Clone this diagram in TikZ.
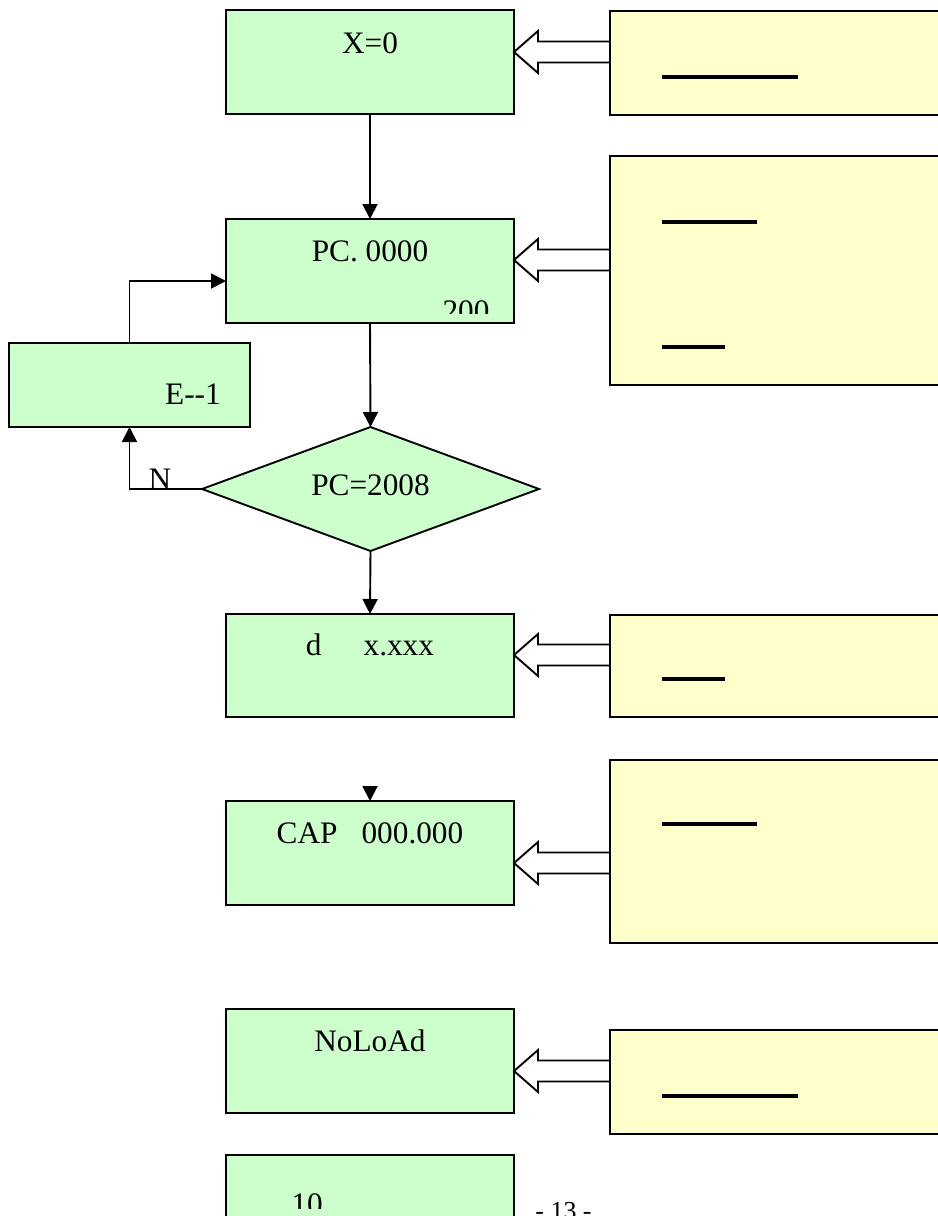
\documentclass[tikz,border=0pt]{standalone}
\usepackage{fontspec}
\setmainfont{Liberation Serif}
\usetikzlibrary{shapes.geometric,arrows.meta,calc}
\definecolor{boxgreen}{HTML}{CCFFCC}
\definecolor{boxyellow}{HTML}{FFFFCC}
\newcommand\blockarrow[2]{%
  \coordinate (#1u) at ($(#1)+(0,-10.5)$);
  \coordinate (#1d) at ($(#1)+(0,10.5)$);
  \draw[barrow] (#2.west |- #1u) -- ($(#1)+(24,-10.5)$) -- ($(#1)+(24,-21)$) -- (#1)
     -- ($(#1)+(24,21)$) -- ($(#1)+(24,10.5)$) -- (#2.west |- #1d) -- cycle;}
\begin{document}
\begin{tikzpicture}[x=1bp,y=-1bp,
  gbox/.style={draw, line width=1.9bp, fill=boxgreen, rectangle, inner sep=0pt, outer sep=0pt, minimum width=288bp, minimum height=104bp},
  ybox/.style={draw, line width=1.9bp, fill=boxyellow, rectangle, inner sep=0pt, outer sep=0pt, minimum width=340bp},
  conn/.style={line width=1.9bp, -{Triangle[length=15bp,width=15bp]}},
  barrow/.style={draw, line width=1.9bp, fill=white, line join=miter},
  uline/.style={line width=3.2bp},
  txt/.style={font=\fontsize{31.4}{36}\selectfont, inner sep=0pt, anchor=base},
]
\fill[white] (0,0) rectangle (938,1216);
\useasboundingbox (0,0) rectangle (938,1216);

% green boxes
\node[gbox] (g1) at (370,62) {};
\node[gbox] (g2) at (370,271) {};
\node[gbox, minimum width=241bp, minimum height=84bp] (e1) at (129.5,385) {};
\node[draw, line width=1.9bp, fill=boxgreen, diamond, inner sep=0pt, outer sep=0pt,
      minimum width=337bp, minimum height=124bp] (d) at (370.5,489) {};
\node[gbox, minimum height=103bp] (g3) at (370,665.5) {};
\node[gbox] (g4) at (370,853) {};
\node[gbox] (g5) at (370,1061) {};
\node[gbox] (g6) at (370,1207) {};

% yellow boxes
\node[ybox, minimum height=104bp] (y1) at (780,63) {};
\node[ybox, minimum height=229bp] (y2) at (780,270.5) {};
\node[ybox, minimum height=102bp] (y3) at (780,666) {};
\node[ybox, minimum height=183bp] (y4) at (780,851.5) {};
\node[ybox, minimum height=104bp] (y5) at (780,1082) {};

% underlines in yellow boxes
\draw[uline] (662,77) -- (798,77);
\draw[uline] (662,222) -- (757,222);
\draw[uline] (662,347) -- (725,347);
\draw[uline] (662,679) -- (725,679);
\draw[uline] (662,824) -- (757,824);
\draw[uline] (662,1096) -- (798,1096);

% block arrows
\coordinate (a1) at ($(g1.east)+(0,-10)$);
\coordinate (a2) at ($(g2.east)+(0,-11)$);
\coordinate (a3) at ($(g3.east)+(0,-10.5)$);
\coordinate (a4) at ($(g4.east)+(0,10)$);
\coordinate (a5) at ($(g5.east)+(0,10)$);
\blockarrow{a1}{y1}
\blockarrow{a2}{y2}
\blockarrow{a3}{y3}
\blockarrow{a4}{y4}
\blockarrow{a5}{y5}

% texts
\node[txt] (t1) at ($(g1.north)+(0,43)$) {X=0};
\node[txt] (t2) at ($(g2.north)+(0,42)$) {PC. 0000};
\begin{scope}
  \clip (g2.north west) rectangle ($(g2.south east)+(0,-10)$);
  \node[txt] (t200) at ($(g2.south)+(96,-2)$) {200};
\end{scope}
\node[txt] (te) at ($(e1.center)+(63.5,19)$) {E-{}-1};
\node[txt] (td) at ($(d.center)+(0,6)$) {PC=2008};
\node[txt] (tn) at ($(d.west)+(-42,0)$) {N};
\node[txt] (t3) at ($(g3.north)+(0,41)$) {d\hspace{42bp}x.xxx};
\node[txt] (t4) at ($(g4.north)+(0,42)$) {CAP\hspace{24bp}000.000};
\node[txt] (t5) at ($(g5.north)+(0,42)$) {NoLoAd};
\begin{scope}
  \clip (g6.north west) rectangle ($(g6.north east)+(0,53)$);
  \node[txt] (t10) at ($(g6.north)+(-63,59)$) {10};
\end{scope}
\node[txt, font=\fontsize{26}{30}\selectfont] (pg) at (563.5,1219) {- 13 -};

% connectors
\draw[conn] (g1.south) -- (g2.north);
\draw[conn] (g2.south) -- (d.north);
\draw[conn] (d.south) -- (g3.north);
\draw[conn] (d.west) -| (e1.south);
\draw[conn] (e1.north) |- ($(g2.west)+(0,10)$);
\coordinate (c4) at ($(g4.north)+(0,-15)$);
\draw[conn] (c4) -- (g4.north);
\end{tikzpicture}
\end{document}
